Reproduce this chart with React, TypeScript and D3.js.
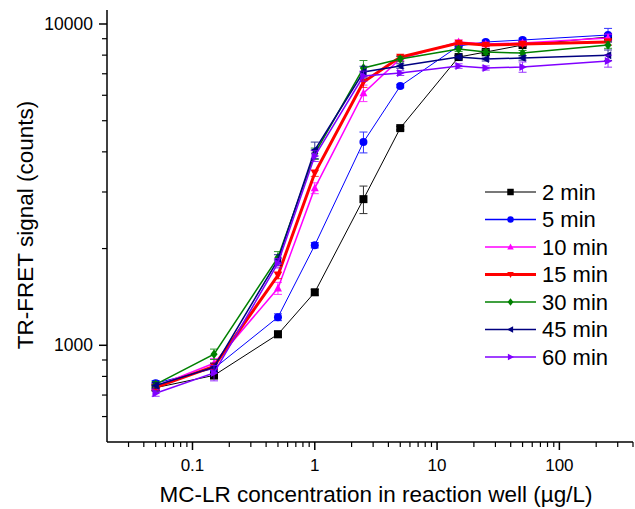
import { useRef, useEffect } from 'react'
import * as d3 from 'd3'

// MC-LR concentration (µg/L)
const conc = [0.05, 0.15, 0.5, 1, 2.5, 5, 15, 25, 50, 250]

const labels = ['2 min', '5 min', '10 min', '15 min', '30 min', '45 min', '60 min']
const colors = ['#000000', '#0000ff', '#ff00ff', '#ff0000', '#008000', '#000080', '#8000ff']
const widths = [1, 1, 1.5, 3, 1.5, 1.5, 1.5]
const symbols = ['square', 'circle', 'up', 'down', 'diamond', 'left', 'right']

const min2 = [738, 806, 1082, 1462, 2850, 4742, 7890, 8180, 8600, 9110]
const min5 = [762, 847, 1223, 2049, 4290, 6410, 8540, 8790, 8916, 9240]
const min10 = [745, 879, 1505, 3084, 6094, 7800, 8789, 8660, 8726, 9050]
const min15 = [740, 860, 1652, 3435, 6597, 7891, 8726, 8600, 8660, 8790]
const min30 = [756, 938, 1877, 3950, 7297, 7780, 8358, 8180, 8120, 8600]
const min45 = [750, 855, 1844, 4050, 7088, 7400, 7891, 7780, 7837, 8000]
const min60 = [709, 820, 1801, 3882, 6886, 7035, 7400, 7297, 7346, 7670]

const err2 = [15, 20, 25, 30, 280, 60, 90, 90, 80, 150]
const err5 = [15, 15, 30, 40, 320, 80, 120, 110, 120, 450]
const err10 = [15, 30, 65, 120, 360, 120, 130, 110, 120, 250]
const err15 = [15, 20, 40, 80, 250, 100, 100, 100, 110, 200]
const err30 = [15, 35, 80, 160, 400, 150, 150, 150, 150, 200]
const err45 = [15, 25, 70, 240, 300, 120, 110, 110, 120, 300]
const err60 = [15, 45, 60, 150, 250, 120, 120, 110, 270, 330]

const values = [min2, min5, min10, min15, min30, min45, min60]
const errors = [err2, err5, err10, err15, err30, err45, err60]

const xMajor = [0.1, 1, 10, 100]
const xMinor = [0.03, 0.04, 0.05, 0.06, 0.07, 0.08, 0.09, 0.2, 0.3, 0.4, 0.5, 0.6, 0.7, 0.8, 0.9, 2, 3, 4, 5, 6, 7, 8, 9, 20, 30, 40, 50, 60, 70, 80, 90, 200, 300, 400]
const yMajor = [1000, 10000]
const yMinor = [600, 700, 800, 900, 2000, 3000, 4000, 5000, 6000, 7000, 8000, 9000]

const font = 'Arial, "Liberation Sans", sans-serif'

function markerPath(kind: string, s: number) {
	const h = s / 2
	switch (kind) {
		case 'square':
			return `M${-h},${-h}H${h}V${h}H${-h}Z`
		case 'circle':
			return d3.symbol(d3.symbolCircle, (s * s * Math.PI) / 4)()
		case 'up':
			return `M0,${-h * 1.1}L${h},${h * 0.8}L${-h},${h * 0.8}Z`
		case 'down':
			return `M0,${h * 1.1}L${h},${-h * 0.8}L${-h},${-h * 0.8}Z`
		case 'diamond':
			return `M0,${-h * 1.15}L${h * 0.9},0L0,${h * 1.15}L${-h * 0.9},0Z`
		case 'left':
			return `M${-h * 1.1},0L${h * 0.8},${-h}L${h * 0.8},${h}Z`
		case 'right':
			return `M${h * 1.1},0L${-h * 0.8},${-h}L${-h * 0.8},${h}Z`
	}
	return ''
}

export default function App() {
	const ref = useRef<SVGSVGElement>(null)

	useEffect(() => {
		const svg = d3.select(ref.current)
		svg.selectAll('*').remove()

		const x = d3.scaleLog().domain([0.02, 400]).range([107, 633])
		const y = d3.scaleLog().domain([500, 11000]).range([442, 10.7])

		// x axis
		const gx = svg.append('g').attr('transform', 'translate(0,442)')
		gx.append('line').attr('x1', 107).attr('x2', 633).attr('stroke', '#000').attr('stroke-width', 1.5)
		gx.selectAll('.minor')
			.data(xMinor)
			.join('line')
			.attr('x1', (d) => x(d))
			.attr('x2', (d) => x(d))
			.attr('y1', 0)
			.attr('y2', 5)
			.attr('stroke', '#000')
			.attr('stroke-width', 1.2)
		gx.selectAll('.major')
			.data(xMajor)
			.join('g')
			.each(function (d) {
				const g = d3.select(this)
				g.append('line').attr('x1', x(d)).attr('x2', x(d)).attr('y1', 0).attr('y2', 8).attr('stroke', '#000').attr('stroke-width', 1.5)
				g.append('text')
					.attr('x', x(d))
					.attr('y', 29)
					.attr('text-anchor', 'middle')
					.attr('font-size', 17)
					.attr('font-family', font)
					.text(d3.format('~g')(d))
			})

		// y axis
		const gy = svg.append('g').attr('transform', 'translate(107,0)')
		gy.append('line').attr('y1', 10).attr('y2', 442).attr('stroke', '#000').attr('stroke-width', 1.5)
		gy.selectAll('.minor')
			.data(yMinor)
			.join('line')
			.attr('y1', (d) => y(d))
			.attr('y2', (d) => y(d))
			.attr('x1', 0)
			.attr('x2', -5)
			.attr('stroke', '#000')
			.attr('stroke-width', 1.2)
		gy.selectAll('.major')
			.data(yMajor)
			.join('g')
			.each(function (d) {
				const g = d3.select(this)
				g.append('line').attr('y1', y(d)).attr('y2', y(d)).attr('x1', 0).attr('x2', -8).attr('stroke', '#000').attr('stroke-width', 1.5)
				g.append('text')
					.attr('x', -14)
					.attr('y', y(d))
					.attr('dy', '0.35em')
					.attr('text-anchor', 'end')
					.attr('font-size', 17.5)
					.attr('font-family', font)
					.text(d)
			})

		svg.append('text')
			.attr('x', 376)
			.attr('y', 502)
			.attr('text-anchor', 'middle')
			.attr('font-size', 22.5)
			.attr('font-family', font)
			.text('MC-LR concentration in reaction well (µg/L)')
		svg.append('text')
			.attr('transform', 'translate(33,225) rotate(-90)')
			.attr('text-anchor', 'middle')
			.attr('font-size', 22.5)
			.attr('font-family', font)
			.text('TR-FRET signal (counts)')

		const line = d3
			.line<number>()
			.x((d, i) => x(conc[i]))
			.y((d) => y(d))

		values.forEach((vals, si) => {
			const g = svg.append('g')
			const c = colors[si]
			// error bars
			const bars = g.append('g').attr('stroke', c).attr('stroke-width', 1).attr('opacity', 0.8)
			vals.forEach((v, i) => {
				const e = errors[si][i]
				const cx = x(conc[i])
				bars.append('line').attr('x1', cx).attr('x2', cx).attr('y1', y(v - e)).attr('y2', y(v + e))
				bars.append('line').attr('x1', cx - 4).attr('x2', cx + 4).attr('y1', y(v - e)).attr('y2', y(v - e))
				bars.append('line').attr('x1', cx - 4).attr('x2', cx + 4).attr('y1', y(v + e)).attr('y2', y(v + e))
			})
			g.append('path')
				.datum(vals)
				.attr('d', line)
				.attr('fill', 'none')
				.attr('stroke', c)
				.attr('stroke-width', widths[si])
			g.selectAll('.pt')
				.data(vals)
				.join('path')
				.attr('transform', (d, i) => `translate(${x(conc[i])},${y(d)})`)
				.attr('d', markerPath(symbols[si], 8))
				.attr('fill', c)
		})

		// legend
		const lg = svg.append('g').attr('transform', 'translate(485,192)')
		labels.forEach((lab, i) => {
			const row = lg.append('g').attr('transform', `translate(0,${i * 27.5})`)
			row.append('line').attr('x1', 0).attr('x2', 51).attr('stroke', colors[i]).attr('stroke-width', Math.max(widths[i], 1.3)).attr('opacity', i === 0 ? 0.7 : 1)
			row.append('path').attr('transform', 'translate(25.5,0)').attr('d', markerPath(symbols[i], 6.5)).attr('fill', colors[i])
			row.append('text')
				.attr('x', 57)
				.attr('dy', '0.36em')
				.attr('font-size', 22)
				.attr('font-family', font)
				.text(lab)
		})
	}, [])

	return (
		<div style={{ position: 'absolute', left: 0, top: 0 }}>
			<svg ref={ref} width={635} height={509} style={{ display: 'block', background: '#fff' }}></svg>
		</div>
	)
}
